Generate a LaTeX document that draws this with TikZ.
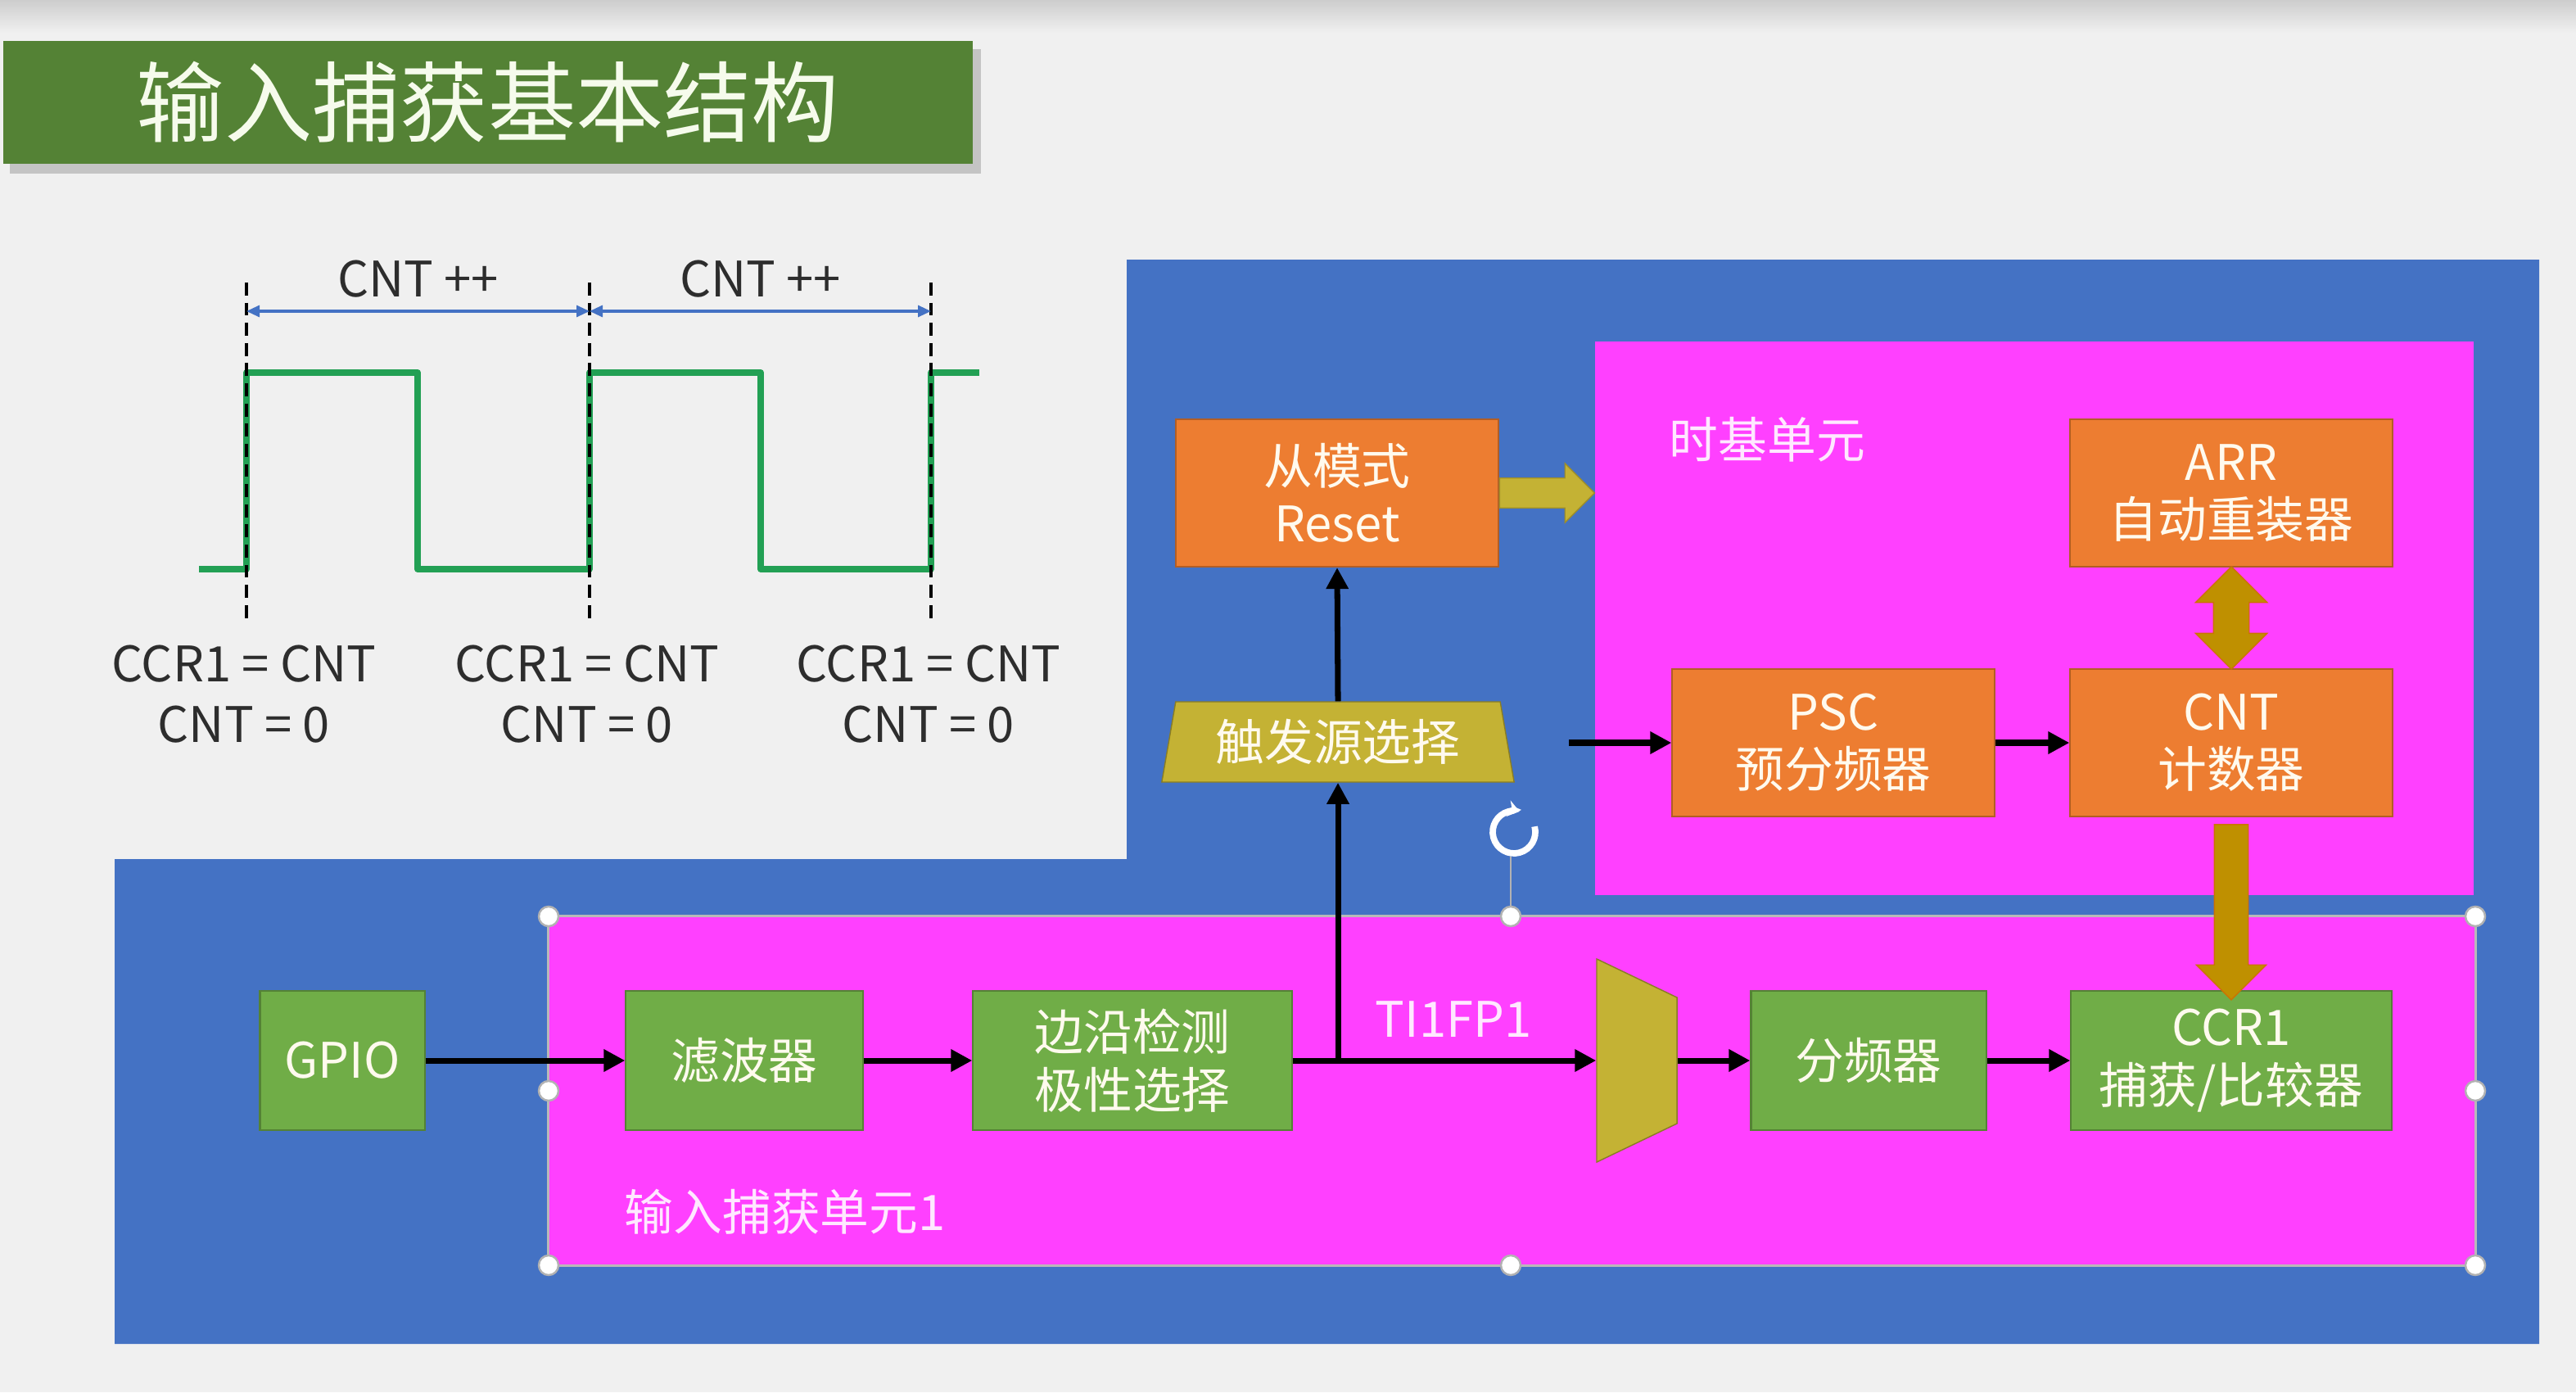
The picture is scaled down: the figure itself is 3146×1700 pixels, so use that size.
\documentclass[tikz,border=0pt]{standalone}
\usepackage{fontspec}
\setmainfont{Noto Sans CJK SC}
\usetikzlibrary{arrows.meta, positioning, calc, shapes.geometric, shapes.arrows}

\definecolor{bggray}{RGB}{240,240,240}
\definecolor{topgray}{RGB}{205,205,205}
\definecolor{titlegreen}{RGB}{84,130,53}
\definecolor{titletext}{RGB}{246,251,236}
\definecolor{panelblue}{RGB}{68,114,196}
\definecolor{unitpink}{RGB}{255,64,255}
\definecolor{unittext}{RGB}{255,232,255}
\definecolor{boxorange}{RGB}{237,125,49}
\definecolor{boxgreen}{RGB}{112,173,71}
\definecolor{boxtext}{RGB}{255,250,238}
\definecolor{muxolive}{RGB}{196,178,52}
\definecolor{busgold}{RGB}{191,144,0}
\definecolor{wavegreen}{RGB}{34,160,84}
\definecolor{txtgray}{RGB}{45,45,45}

\tikzset{
	regbox/.style={draw=#1!75!black, fill=#1, text=boxtext, align=center, inner sep=0pt, line width=0.6pt, font=\fontsize{17}{20}\selectfont},
	orangebox/.style={regbox=boxorange, minimum width=3.93cm, minimum height=1.8cm},
	greenbox/.style={regbox=boxgreen, minimum height=1.7cm},
	unitbox/.style={fill=unitpink, inner sep=0pt},
	unitlabel/.style={text=unittext, inner sep=0pt, font=\fontsize{17}{20}\selectfont},
	evtlabel/.style={text=txtgray, align=center, inner sep=0pt, font=\fontsize{17}{21}\selectfont},
	sigarr/.style={-{Triangle[length=0.26cm, width=0.26cm]}, line width=2pt, black},
	dimarr/.style={{Triangle[length=0.16cm, width=0.14cm]}-{Triangle[length=0.16cm, width=0.14cm]}, line width=0.9pt, panelblue},
	wave/.style={wavegreen, line width=2.3pt, line join=round},
	edgeline/.style={black, line width=1.1pt, dash pattern=on 4.5pt off 2.5pt},
	fatarr/.style={single arrow, fill=#1, inner xsep=0pt, single arrow head indent=0pt},
	busarr/.style={double arrow, fill=busgold, draw=busgold!80!red, line width=0.4pt, inner xsep=0pt, double arrow head indent=0pt},
	handle/.style={circle, fill=white, draw=gray!60, line width=0.7pt, inner sep=0pt, minimum size=0.24cm},
}

\begin{document}
\begin{tikzpicture}[x=0.01cm, y=-0.01cm]
	\useasboundingbox (0,0) rectangle (3146,1700);

	% Background
	\fill[bggray] (0,0) rectangle (3146,1700);
	\shade[top color=topgray, bottom color=bggray] (0,0) rectangle (3146,40);

	% Title
	\fill[black, opacity=0.18] (12,60) rectangle (1198,212);
	\node[fill=titlegreen, minimum width=11.84cm, minimum height=1.5cm, inner sep=0pt, text=titletext, font=\fontsize{30.5}{34}\selectfont] (title) at (596,125) {输入捕获基本结构};

	% Waveform
	\draw[wave] (243,695) -- (301,695) -- (301,455) -- (510,455) -- (510,695) -- (720,695) -- (720,455) -- (929,455) -- (929,695) -- (1137,695) -- (1137,455) -- (1196,455);
	\foreach \x [count=\i] in {301,720,1137} {
		\draw[edgeline] (\x,345) -- (\x,760);
		\coordinate (top\i) at (\x,380);
		\node[evtlabel] (evt\i) at (\x-3,848) {CCR1 = CNT\\CNT = 0};
	}
	\draw[dimarr] (top1) -- node[midway, above=0.15cm, evtlabel] (inc1) {CNT ++} (top2);
	\draw[dimarr] (top2) -- node[midway, above=0.15cm, evtlabel] (inc2) {CNT ++} (top3);

	% Blue panel
	\fill[panelblue] (1376,317) -- (3101,317) -- (3101,1641) -- (140,1641) -- (140,1049) -- (1376,1049) -- cycle;

	% Time base unit
	\node[unitbox, minimum width=10.73cm, minimum height=6.76cm] (tb) at (2484.5,755) {};
	\node[unitlabel, anchor=west] (tblabel) at (2038,537) {时基单元};
	\node[orangebox] (arr) at (2725,602) {ARR\\自动重装器};
	\node[orangebox] (psc) at (2239,907) {PSC\\预分频器};
	\node[orangebox] (cnt) at (2725,907) {CNT\\计数器};

	% Slave mode and trigger
	\node[orangebox] (slave) at (1633,602) {从模式\\Reset};
	\node[trapezium, trapezium left angle=77, trapezium right angle=77, trapezium stretches=true, fill=muxolive, draw=muxolive!70!black, line width=0.4pt, minimum width=4.32cm, minimum height=0.98cm, inner sep=0pt, text=boxtext, font=\fontsize{17}{20}\selectfont] (trig) at (1634,906) {触发源选择};

	% Input capture unit
	\node[unitbox, draw=gray!55, line width=0.8pt, minimum width=23.53cm, minimum height=4.26cm] (ic) at (1846.5,1332) {};
	\node[unitlabel, anchor=west] (iclabel) at (762,1480) {输入捕获单元1};
	\node[greenbox, minimum width=2.01cm] (gpio) at (418,1295) {GPIO};
	\node[greenbox, minimum width=2.89cm] (filt) at (909,1295) {滤波器};
	\node[greenbox, minimum width=3.89cm] (edgedet) at (1383,1295) {边沿检测\\极性选择};
	\node[trapezium, trapezium left angle=73, trapezium right angle=73, trapezium stretches=true, rotate=-90, fill=muxolive, draw=muxolive!70!black, line width=0.4pt, minimum width=2.48cm, minimum height=0.98cm, inner sep=1pt] (mux) at (1999,1295) {};
	\node[greenbox, minimum width=2.87cm] (div) at (2282,1295) {分频器};
	\node[greenbox, minimum width=3.91cm] (ccr) at (2725,1295) {CCR1\\捕获/比较器};
	\node[unitlabel] (tifp) at (1775,1245) {TI1FP1};

	% Signal arrows
	\coordinate (tap) at (edgedet.east -| trig.south);
	\coordinate (pscin) at (1916,907);
	\draw[sigarr] (gpio) -- (filt);
	\draw[sigarr] (filt) -- (edgedet);
	\draw[sigarr] (edgedet.east) -- (mux.south);
	\draw[sigarr] (mux.north) -- (div);
	\draw[sigarr] (div) -- (ccr);
	\draw[sigarr] (tap) -- (trig.south);
	\draw[sigarr] (trig.north) -- (slave.south);
	\draw[sigarr] (pscin) -- (psc);
	\draw[sigarr] (psc) -- (cnt);

	% Block arrows
	\node[fatarr=muxolive, draw=muxolive!80!black, line width=0.4pt, minimum height=1.16cm, inner ysep=0.175cm, single arrow head extend=0.18cm, anchor=tail] (resetarr) at (slave.east) {};
	\node[busarr, rotate=90, minimum height=1.25cm, inner ysep=0.21cm, double arrow head extend=0.22cm] (arrbus) at ($(arr.south)!0.5!(cnt.north)$) {};
	\node[fatarr=busgold, draw=busgold!80!red, line width=0.4pt, rotate=-90, minimum height=2.14cm, inner ysep=0.2cm, single arrow head extend=0.22cm] (cntbus) at ($(cnt.south)!0.5!(ccr.north)$) {};

	% Selection handles
	\coordinate (rotc) at (1849,1016);
	\foreach \hx/\hy [count=\i] in {670/1119, 1845/1119, 3023/1119, 670/1332, 3023/1332, 670/1545, 1845/1545, 3023/1545}
		\node[handle] (hdl\i) at (\hx,\hy) {};
	\draw[gray!60, line width=0.6pt] (1845,1046) -- (hdl2);
	\draw[white, line width=2.2pt, -{Stealth[length=0.14cm, width=0.2cm]}] ([shift={(15:0.26cm)}]rotc) arc[start angle=15, end angle=-285, radius=0.26cm];
\end{tikzpicture}
\end{document}
